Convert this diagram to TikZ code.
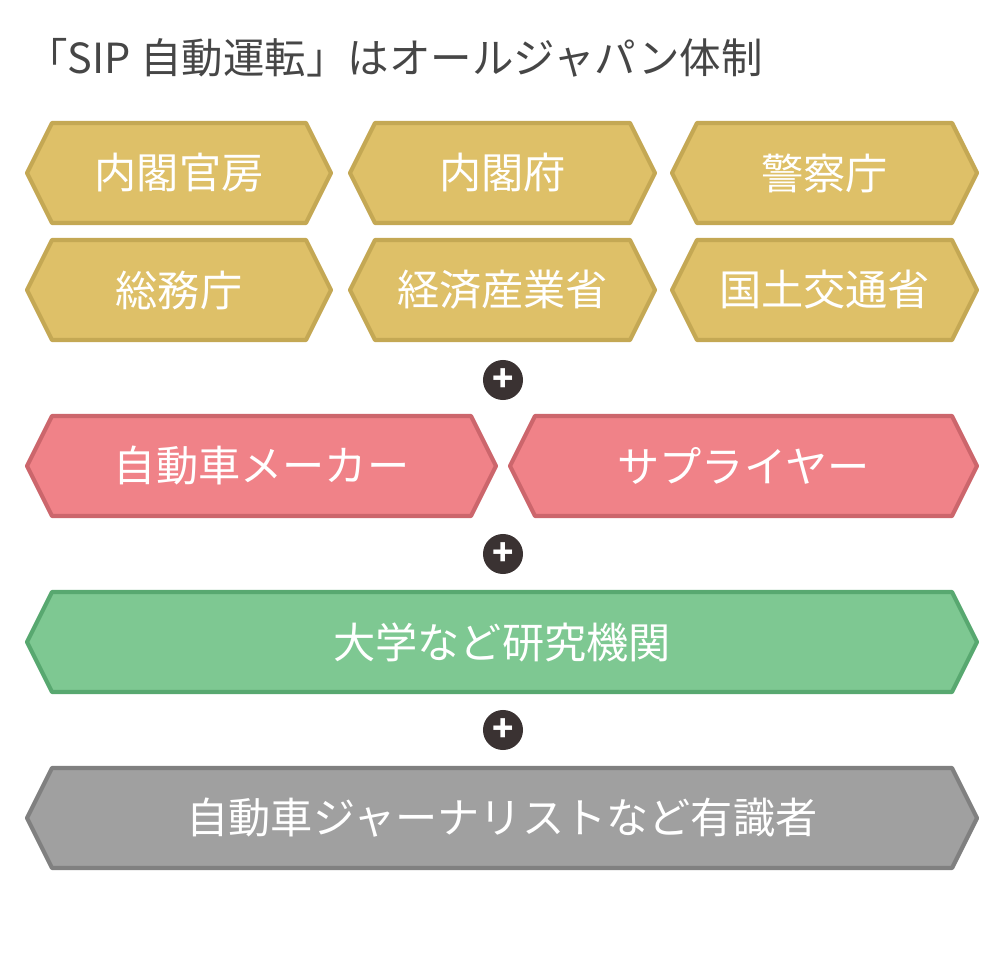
\documentclass[tikz,border=0pt]{standalone}
\usepackage{fontspec}
\setmainfont{Noto Sans CJK JP}
\usetikzlibrary{positioning}
\definecolor{jpGold}{RGB}{222,192,104}
\definecolor{jpGoldLine}{RGB}{196,168,84}
\definecolor{jpRed}{RGB}{240,130,136}
\definecolor{jpRedLine}{RGB}{204,102,108}
\definecolor{jpGreen}{RGB}{126,200,146}
\definecolor{jpGreenLine}{RGB}{88,168,112}
\definecolor{jpGray}{RGB}{160,160,160}
\definecolor{jpGrayLine}{RGB}{128,128,128}
\definecolor{jpDark}{RGB}{58,50,50}
\definecolor{jpTitle}{RGB}{70,70,70}

% hexagon box: name, left x, right x, centre y, colour, text
\newcommand{\hexbox}[6]{%
  \draw[fill=#5, draw=#5Line, line width=1.2pt, line join=round]
    (#2,#4) -- (#2+25,#4-50) -- (#3-25,#4-50) -- (#3,#4)
    -- (#3-25,#4+50) -- (#2+25,#4+50) -- cycle;
  \node[boxtext] (#1) at ({(#2+#3)/2},#4) {#6};}

\begin{document}
\begin{tikzpicture}[x=0.01cm, y=-0.01cm,
  boxtext/.style={text=white, font=\fontsize{12}{14}\selectfont},
  plus/.style={circle, fill=jpDark, text=white, inner sep=0pt, minimum size=0.4cm, font=\bfseries\fontsize{10}{10}\selectfont}]
  \useasboundingbox (0,0) rectangle (1000,961);

  \node[anchor=west, text=jpTitle, font=\fontsize{11.8}{13}\selectfont] (title) at (14,58) {「SIP 自動運転」はオールジャパン体制};

  % ministries
  \hexbox{naikakukanbo}{27}{331}{173}{jpGold}{内閣官房}
  \hexbox{naikakufu}{350}{655}{173}{jpGold}{内閣府}
  \hexbox{keisatsu}{672}{977}{173}{jpGold}{警察庁}
  \hexbox{somu}{27}{331}{290}{jpGold}{総務庁}
  \hexbox{keisan}{350}{655}{290}{jpGold}{経済産業省}
  \hexbox{kokudo}{672}{977}{290}{jpGold}{国土交通省}

  \node[plus] (plusA) at (503,380) {+};

  % industry
  \hexbox{maker}{27}{496}{466}{jpRed}{自動車メーカー}
  \hexbox{supplier}{510}{977}{466}{jpRed}{サプライヤー}

  \node[plus] (plusB) at (503,554) {+};

  \hexbox{univ}{27}{977}{642}{jpGreen}{大学など研究機関}

  \node[plus] (plusC) at (503,730) {+};

  \hexbox{expert}{27}{977}{818}{jpGray}{自動車ジャーナリストなど有識者}
\end{tikzpicture}
\end{document}
